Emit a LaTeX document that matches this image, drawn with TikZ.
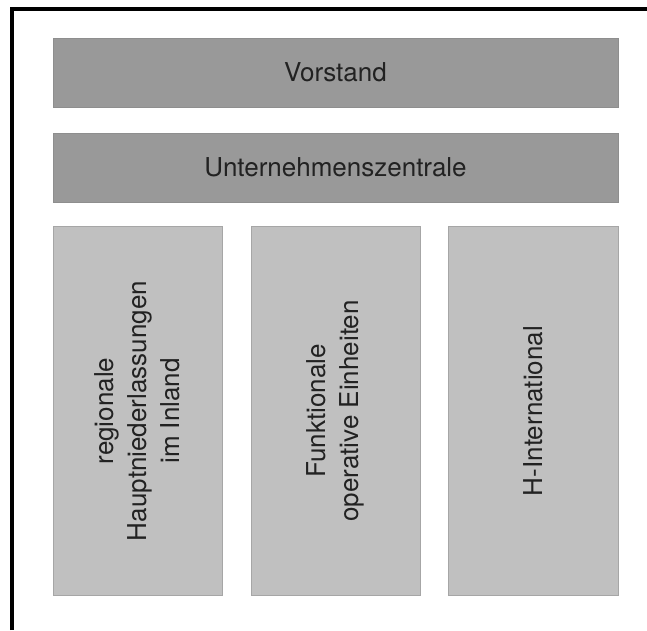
\documentclass[tikz,border=0pt]{standalone}
\usepackage{fontspec}
\setmainfont{TeX Gyre Heros}
\definecolor{headfill}{HTML}{999999}
\definecolor{headedge}{HTML}{8E8E8E}
\definecolor{unitfill}{HTML}{C0C0C0}
\definecolor{unitedge}{HTML}{A6A6A6}
\definecolor{labeltext}{HTML}{222222}
\begin{document}
\begin{tikzpicture}[x=1pt,y=1pt,
  label font/.style={font=\fontsize{26}{33}\selectfont, text=labeltext},
  headbox/.style={label font, draw=headedge, line width=0.8pt, fill=headfill,
    minimum width=565pt, minimum height=69pt, inner sep=0pt},
  unitbox/.style={label font, draw=unitedge, line width=1pt, fill=unitfill,
    rotate=90, align=center, minimum width=368pt, minimum height=169pt, inner sep=0pt}]
  \useasboundingbox (0,0) rectangle (647,630);
  % frame lines along the left and top edge
  \coordinate (frameBL) at (11.5,0);
  \coordinate (frameTL) at (11.5,621);
  \coordinate (frameTR) at (647,621);
  \draw[line width=4pt] (frameBL) -- (frameTL) -- (frameTR);
  % management levels
  \node[headbox] (vorstand) at (335.5,557.5) {Vorstand};
  \node[headbox] (zentrale) at (335.5,462.5) {Unternehmenszentrale};
  % operating units
  \node[unitbox] (regional) at (137.5,219) {regionale\\Hauptniederlassungen\\im Inland};
  \node[unitbox] (funktional) at (335.5,219) {Funktionale\\operative Einheiten};
  \node[unitbox, minimum height=170pt] (international) at (533,219) {H-International};
\end{tikzpicture}
\end{document}
